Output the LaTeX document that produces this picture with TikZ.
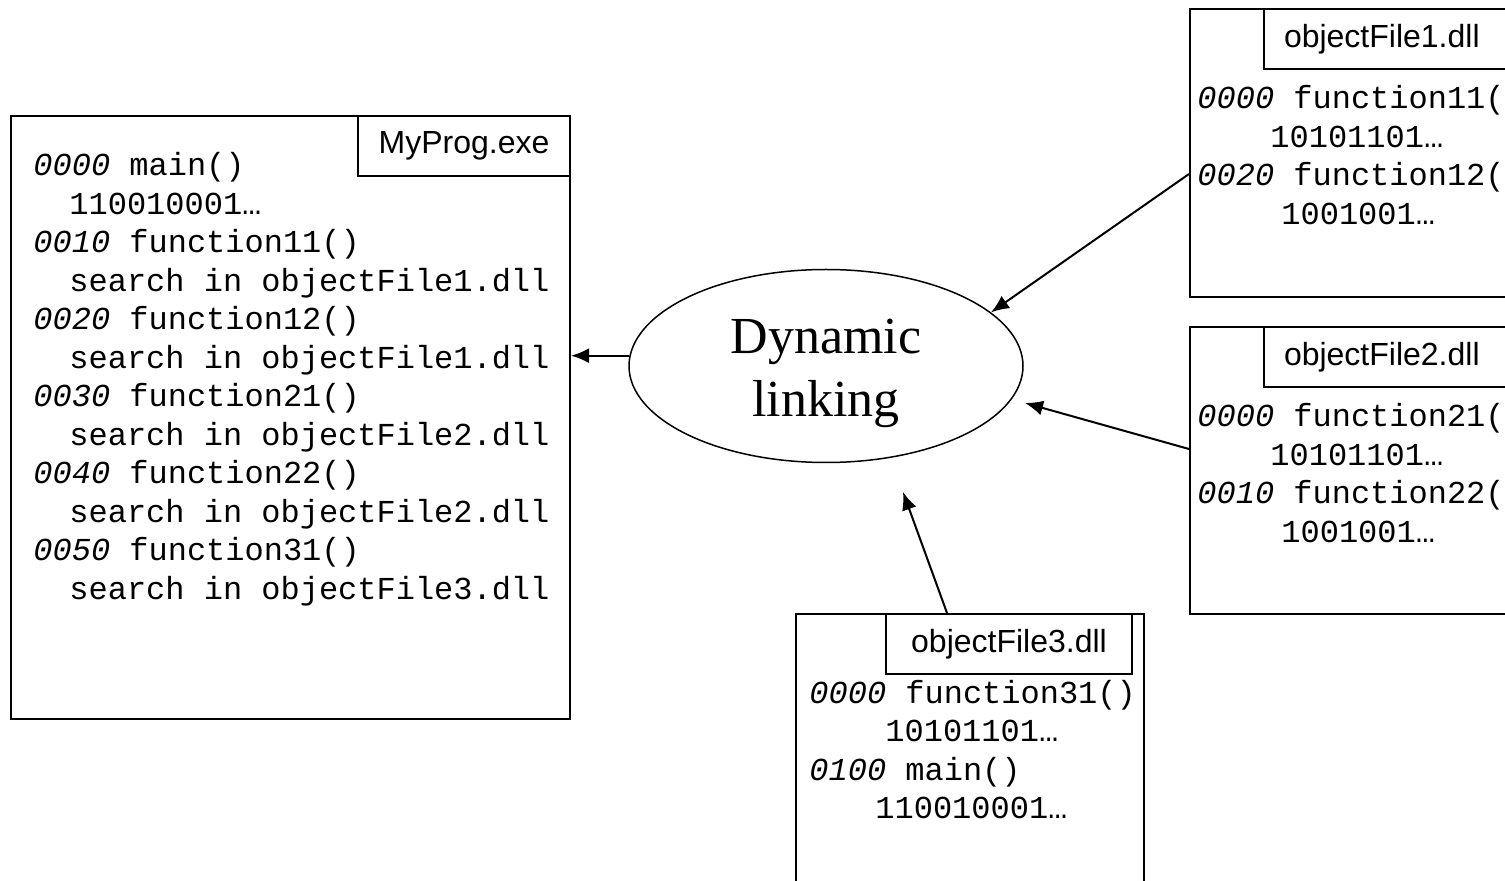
\documentclass[tikz,border=0pt]{standalone}
\usepackage{fontspec}
\setmainfont{Liberation Serif}
\setsansfont{Liberation Sans}
\setmonofont{Liberation Mono}
\usetikzlibrary{shapes.geometric, arrows.meta, positioning}

\tikzset{
  filebox/.style={rectangle, draw, line width=1pt, anchor=north west, inner sep=0pt},
  namebox/.style={rectangle, draw, line width=1pt, minimum height=30pt, font=\sffamily\fontsize{16}{19}\selectfont},
  code/.style={anchor=base west, align=left, inner sep=0pt, font=\ttfamily\fontsize{16}{19.25}\selectfont},
  link/.style={-{Latex[length=9pt,width=7.5pt]}, line width=1pt},
}
\newcommand{\addr}[1]{\textit{#1}}

\begin{document}
\begin{tikzpicture}[x=0.5pt, y=-0.5pt]
  \useasboundingbox (0,0) rectangle (1505,881);
  \clip (0,0) rectangle (1505,881);

  % Draw the program file (code nodes sit on their last baseline)
  \node (prog) [filebox, minimum width=279.5pt, minimum height=301.5pt] at (10,115) {};
  \node (progname) [namebox, anchor=north east, minimum width=106pt] at (prog.north east) {MyProg.exe};
  \node (progcode) [code] at (33,599.5) {\addr{0000} main()\\\hspace*{18pt}110010001…\\
    \addr{0010} function11()\\\hspace*{18pt}search in objectFile1.dll\\
    \addr{0020} function12()\\\hspace*{18pt}search in objectFile1.dll\\
    \addr{0030} function21()\\\hspace*{18pt}search in objectFile2.dll\\
    \addr{0040} function22()\\\hspace*{18pt}search in objectFile2.dll\\
    \addr{0050} function31()\\\hspace*{18pt}search in objectFile3.dll};

  % Draw the libraries
  \node (obj1) [filebox, minimum width=210pt, minimum height=144pt] at (1189,8) {};
  \node (obj1name) [namebox, anchor=north west, text width=150pt, align=left, inner xsep=10pt] at (1263,8) {objectFile1.dll};
  \node (obj1code) [code] at (1197,224.5) {\addr{0000} function11(\\\hspace*{36.5pt}10101101…\\
    \addr{0020} function12(\\\hspace*{42pt}1001001…};

  \node (obj2) [filebox, minimum width=210pt, minimum height=143.5pt] at (1189,326) {};
  \node (obj2name) [namebox, anchor=north west, text width=150pt, align=left, inner xsep=10pt] at (1263,326) {objectFile2.dll};
  \node (obj2code) [code] at (1197,542.5) {\addr{0000} function21(\\\hspace*{36.5pt}10101101…\\
    \addr{0010} function22(\\\hspace*{42pt}1001001…};

  \node (obj3) [filebox, minimum width=174pt, minimum height=150pt] at (795,613) {};
  \node (obj3name) [namebox, anchor=north west, minimum width=123pt] at (885,613) {objectFile3.dll};
  \node (obj3code) [code] at (809,818.5) {\addr{0000} function31()\\\hspace*{38pt}10101101…\\
    \addr{0100} main()\\\hspace*{33pt}110010001…};

  % The linker
  \node (dyn) [ellipse, draw, line width=0.75pt, minimum width=197pt, minimum height=96.5pt, inner sep=0pt] at (826,366) {};
  \node (dyntext) [align=center, font=\fontsize{26}{31.5}\selectfont] at (826,373) {Dynamic\\linking};

  \coordinate (tip2) at (1025,403);
  \coordinate (tip3) at (903,492);

  \draw [link] (dyn.177) -- (dyn.177 -| prog.east);
  \draw [link] ([yshift=-10.5pt]obj1.west) -- (dyn.18);
  \draw [link] ([yshift=10.75pt]obj2.west) -- (tip2);
  \draw [link] ([xshift=-11.5pt]obj3.north) -- (tip3);
\end{tikzpicture}
\end{document}
